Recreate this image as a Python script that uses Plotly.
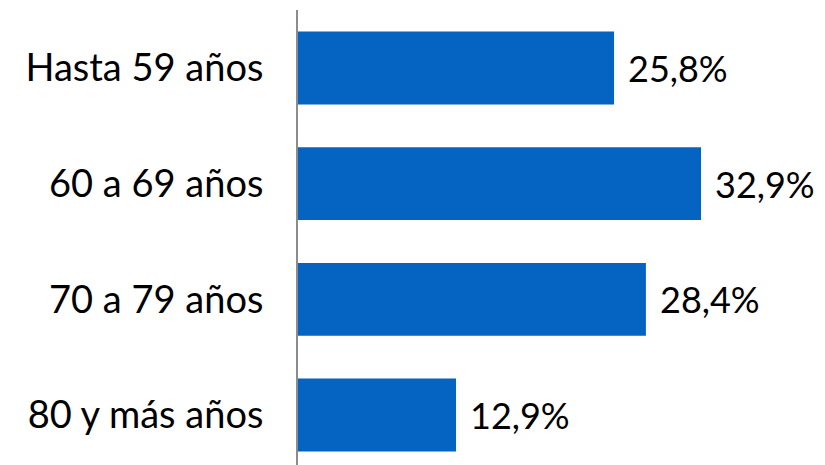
import plotly.graph_objects as go

categories = ["Hasta 59 años", "60 a 69 años", "70 a 79 años", "80 y más años"]
values = [25.8, 32.9, 28.4, 12.9]
labels = ["25,8%", "32,9%", "28,4%", "12,9%"]

FONT = "Lato"
fig = go.Figure(go.Bar(
    x=values, y=categories, orientation="h",
    marker=dict(color="#0563C1", line=dict(width=0)),
    width=0.63,
))

for c, v, t in zip(categories, values, labels):
    fig.add_annotation(x=v, y=c, text=t, showarrow=False, xanchor="left",
                       xshift=12, font=dict(family=FONT, size=36, color="#000000"))

fig.update_layout(
    width=817, height=457,
    margin=dict(l=290, r=0, t=2, b=0, autoexpand=False),
    paper_bgcolor="white", plot_bgcolor="white",
    showlegend=False,
    xaxis=dict(range=[0, 43.02], visible=False, automargin=False),
    yaxis=dict(categoryorder="array", categoryarray=categories,
               range=[3.432, -0.501], showline=True, linecolor="#8c8c8c",
               linewidth=2, ticks="", showgrid=False, zeroline=False,
               automargin=False, ticklabelstandoff=25,
               tickfont=dict(family=FONT, size=38, color="#000000")),
)
fig.write_html("out.html")
